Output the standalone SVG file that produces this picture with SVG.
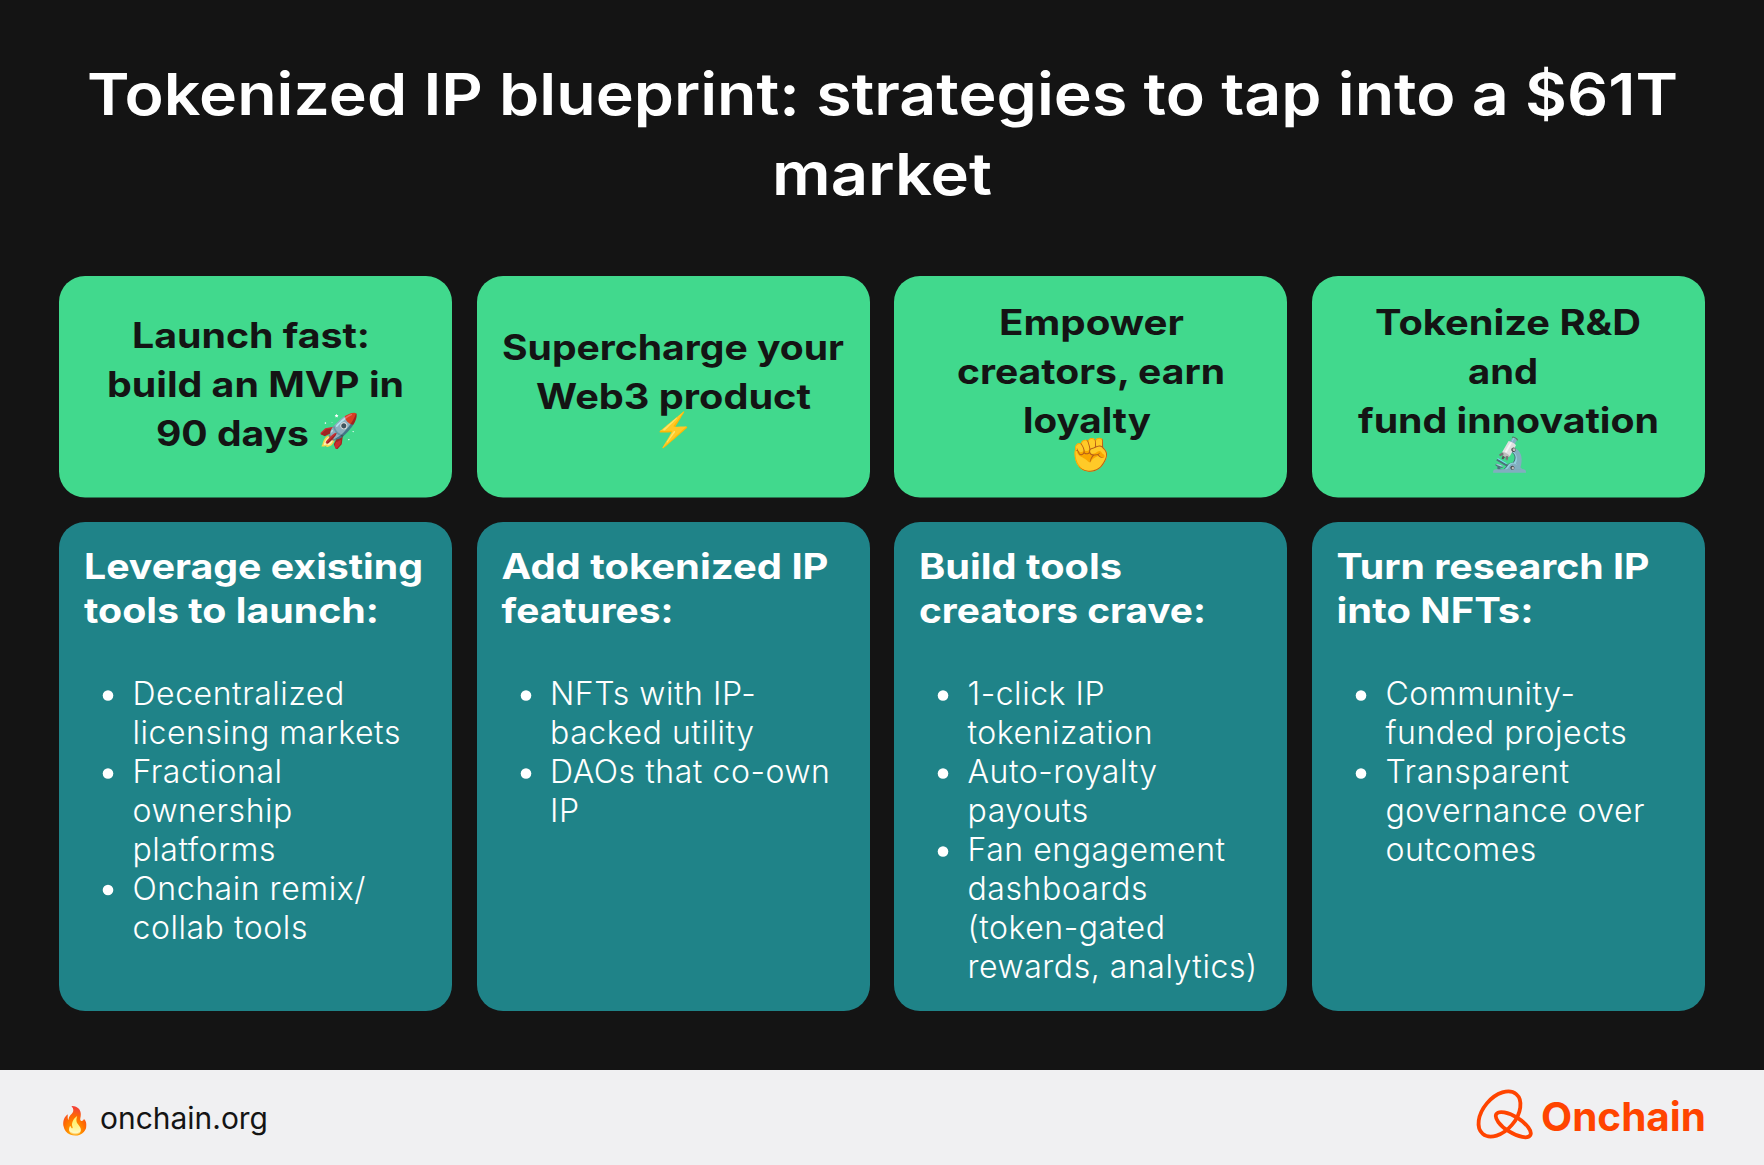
<svg xmlns="http://www.w3.org/2000/svg" width="1764" height="1165" viewBox="0 0 1764 1165">
<defs><style>
text{font-family:"Inter","Liberation Sans","Noto Color Emoji",sans-serif}
.s{font-weight:600}
.t{font-size:58px;fill:#fff}
.g{font-size:35px;fill:#141414;font-weight:650}
.c{font-size:35px;fill:#fff;font-weight:650}
.b{font-size:32px;fill:#fff;font-weight:350;letter-spacing:.55px}
.gr{fill:#41D98D}.te{fill:#1F8388}
.d{fill:#fff}
.em{font-size:33px}
</style></defs>
<rect width="1764" height="1165" fill="#141414"/>
<g id="title"><text class="s t" x="87" y="115" textLength="1591" lengthAdjust="spacingAndGlyphs">Tokenized IP blueprint: strategies to tap into a $61T</text>
<text class="s t" x="772" y="195" textLength="220" lengthAdjust="spacingAndGlyphs">market</text></g>
<g id="card-top-1"><rect class="gr" x="59" y="276" width="393" height="221.5" rx="26"/>
<text class="g" x="132" y="348" textLength="238" lengthAdjust="spacingAndGlyphs">Launch fast:</text>
<text class="g" x="107" y="397" textLength="297" lengthAdjust="spacingAndGlyphs">build an MVP in</text>
<text class="g" x="156" y="446" textLength="153" lengthAdjust="spacingAndGlyphs">90 days</text>
<text class="em" x="318" y="442">🚀</text></g>
<g id="card-top-2"><rect class="gr" x="477" y="276" width="393" height="221.5" rx="26"/>
<text class="g" x="502" y="360" textLength="342" lengthAdjust="spacingAndGlyphs">Supercharge your</text>
<text class="g" x="536" y="409" textLength="275" lengthAdjust="spacingAndGlyphs">Web3 product</text>
<text class="em" x="653" y="441">⚡</text></g>
<g id="card-top-3"><rect class="gr" x="894" y="276" width="393" height="221.5" rx="26"/>
<text class="g" x="999" y="335" textLength="185" lengthAdjust="spacingAndGlyphs">Empower</text>
<text class="g" x="957" y="384" textLength="268" lengthAdjust="spacingAndGlyphs">creators, earn</text>
<text class="g" x="1023" y="433" textLength="128" lengthAdjust="spacingAndGlyphs">loyalty</text>
<text class="em" x="1070" y="466">✊</text></g>
<g id="card-top-4"><rect class="gr" x="1312" y="276" width="393" height="221.5" rx="26"/>
<text class="g" x="1375" y="335" textLength="266" lengthAdjust="spacingAndGlyphs">Tokenize R&amp;D</text>
<text class="g" x="1468" y="384" textLength="70" lengthAdjust="spacingAndGlyphs">and</text>
<text class="g" x="1358" y="433" textLength="301" lengthAdjust="spacingAndGlyphs">fund innovation</text>
<text class="em" x="1489" y="466">🔬</text></g>
<g id="card-body-1"><rect class="te" x="59" y="522" width="393" height="489" rx="26"/>
<text class="c" x="84" y="578.5" textLength="339" lengthAdjust="spacingAndGlyphs">Leverage existing</text>
<text class="c" x="84" y="622.5" textLength="295" lengthAdjust="spacingAndGlyphs">tools to launch:</text>
<circle class="d" cx="108" cy="695.5" r="5.3"/><circle class="d" cx="108" cy="773.5" r="5.3"/><circle class="d" cx="108" cy="890" r="5.3"/>
<text class="b" x="132.5" y="705">Decentralized</text><text class="b" x="132.5" y="744">licensing markets</text><text class="b" x="132.5" y="783">Fractional</text><text class="b" x="132.5" y="822">ownership</text><text class="b" x="132.5" y="861">platforms</text><text class="b" x="132.5" y="900">Onchain remix/</text><text class="b" x="132.5" y="939">collab tools</text></g>
<g id="card-body-2"><rect class="te" x="477" y="522" width="393" height="489" rx="26"/>
<text class="c" x="501.5" y="578.5" textLength="327" lengthAdjust="spacingAndGlyphs">Add tokenized IP</text>
<text class="c" x="501.5" y="622.5" textLength="172" lengthAdjust="spacingAndGlyphs">features:</text>
<circle class="d" cx="526" cy="695.5" r="5.3"/><circle class="d" cx="526" cy="773.5" r="5.3"/>
<text class="b" x="550" y="705">NFTs with IP-</text><text class="b" x="550" y="744">backed utility</text><text class="b" x="550" y="783">DAOs that co-own</text><text class="b" x="550" y="822">IP</text></g>
<g id="card-body-3"><rect class="te" x="894" y="522" width="393" height="489" rx="26"/>
<text class="c" x="919" y="578.5" textLength="203" lengthAdjust="spacingAndGlyphs">Build tools</text>
<text class="c" x="919" y="622.5" textLength="287" lengthAdjust="spacingAndGlyphs">creators crave:</text>
<circle class="d" cx="943" cy="695.5" r="5.3"/><circle class="d" cx="943" cy="773.5" r="5.3"/><circle class="d" cx="943" cy="851.5" r="5.3"/>
<text class="b" x="967.5" y="705">1-click IP</text><text class="b" x="967.5" y="744">tokenization</text><text class="b" x="967.5" y="783">Auto-royalty</text><text class="b" x="967.5" y="822">payouts</text><text class="b" x="967.5" y="861">Fan engagement</text><text class="b" x="967.5" y="900">dashboards</text><text class="b" x="967.5" y="939">(token-gated</text><text class="b" x="967.5" y="978">rewards, analytics)</text></g>
<g id="card-body-4"><rect class="te" x="1312" y="522" width="393" height="489" rx="26"/>
<text class="c" x="1336.5" y="578.5" textLength="313" lengthAdjust="spacingAndGlyphs">Turn research IP</text>
<text class="c" x="1336.5" y="622.5" textLength="197" lengthAdjust="spacingAndGlyphs">into NFTs:</text>
<circle class="d" cx="1361" cy="695.5" r="5.3"/><circle class="d" cx="1361" cy="773.5" r="5.3"/>
<text class="b" x="1385.5" y="705">Community-</text><text class="b" x="1385.5" y="744">funded projects</text><text class="b" x="1385.5" y="783">Transparent</text><text class="b" x="1385.5" y="822">governance over</text><text class="b" x="1385.5" y="861">outcomes</text></g>
<g id="footer"><rect y="1070" width="1764" height="95" fill="#F0F0F2"/>
<text x="58" y="1130" font-size="27">🔥</text>
<text x="100" y="1128.5" font-size="30" fill="#141414" textLength="168" lengthAdjust="spacingAndGlyphs">onchain.org</text>
<g id="logo" fill="none" stroke="#FF4400" stroke-width="3.8"><ellipse cx="1499.5" cy="1114" rx="26" ry="16.5" transform="rotate(-50 1499.5 1114)"/><ellipse cx="1513.3" cy="1124.7" rx="20" ry="8" transform="rotate(32 1513.3 1124.7)"/></g>
<text x="1541" y="1131" font-size="40" font-weight="700" fill="#FF4400" textLength="165" lengthAdjust="spacingAndGlyphs">Onchain</text></g>
</svg>
